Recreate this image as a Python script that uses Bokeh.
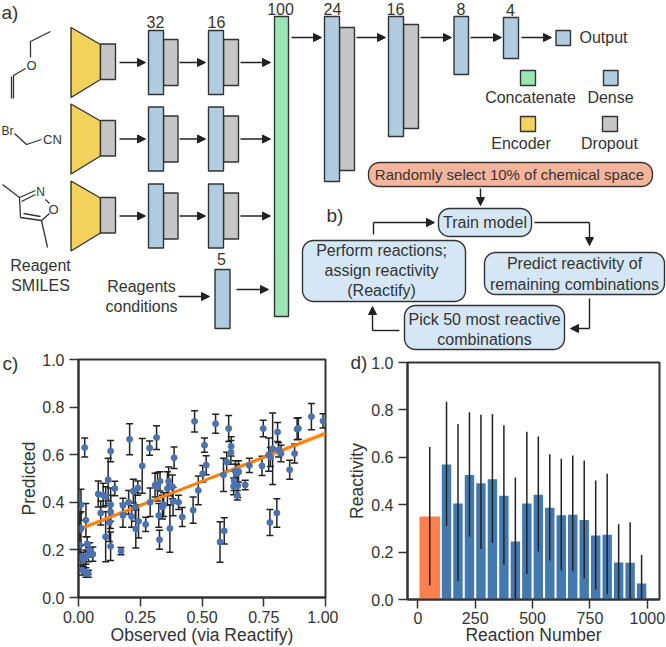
import numpy as np
from bokeh.plotting import figure
from bokeh.layouts import column, row
from bokeh.embed import file_html
from bokeh.resources import INLINE
from bokeh.core.properties import value
from bokeh.models import (Arrow, NormalHead, ColumnDataSource, Whisker, TeeHead,
                          FixedTicker, Range1d)

FONT = "Liberation Sans"
DARK = "#333333"

# ---- panel c data
OBSERVED = [0.025,0.01,0.03,0.01,0.005,0.005,0.01,0.015,0.02,0.03,0.04,0.035,0.03,0.04,0.045,0.058,
            0.08,0.09,0.1,0.11,0.11,0.12,0.125,0.13,0.13,0.13,0.13,
            0.147,0.172,0.18,0.18,0.203,0.207,0.215,0.222,0.23,0.232,0.24,0.243,
            0.258,0.272,0.288,0.29,0.31,0.316,0.32,0.325,0.328,0.33,0.34,0.345,
            0.36,0.365,0.37,0.38,0.383,0.387,0.405,0.42,0.464,0.47,0.485,0.503,0.51,0.517,
            0.555,0.573,0.587,0.59,0.6,0.608,0.617,0.618,0.628,0.63,0.635,0.64,0.643,0.645,0.648,
            0.675,0.692,0.743,0.748,0.77,0.775,0.777,0.786,0.803,0.806,0.81,0.82,0.855,0.875,0.885,0.89,0.943,0.99]
PREDICTED = [0.63,0.39,0.325,0.29,0.285,0.22,0.17,0.115,0.16,0.105,0.10,0.225,0.17,0.18,0.2,0.182,
             0.435,0.355,0.43,0.425,0.255,0.495,0.315,0.615,0.39,0.36,0.215,
             0.458,0.195,0.387,0.345,0.40,0.665,0.34,0.447,0.38,0.288,0.46,0.32,
             0.553,0.307,0.628,0.40,0.472,0.672,0.465,0.345,0.243,0.488,0.38,0.39,
             0.458,0.488,0.29,0.465,0.403,0.587,0.40,0.338,0.367,0.74,0.45,0.52,0.64,0.556,
             0.73,0.233,0.515,0.28,0.57,0.71,0.61,0.635,0.467,0.49,0.53,0.52,0.43,0.47,0.53,
             0.473,0.555,0.553,0.71,0.60,0.315,0.59,0.625,0.355,0.695,0.62,0.605,0.537,0.605,0.708,0.71,0.76,0.742]
PRED_ERR = [0.04,0.065,0.07,0.07,0.07,0.06,0.05,0.02,0.03,0.02,0.015,0.03,0.03,0.03,0.03,0.03,
            0.055,0.05,0.05,0.04,0.105,0.09,0.08,0.045,0.07,0.07,0.06,
            0.03,0.015,0.03,0.05,0.05,0.065,0.045,0.05,0.06,0.08,0.03,0.07,
            0.115,0.03,0.03,0.06,0.05,0.05,0.06,0.05,0.04,0.04,0.05,0.05,
            0.07,0.06,0.1,0.05,0.06,0.045,0.03,0.04,0.055,0.045,0.06,0.035,0.03,0.04,
            0.04,0.085,0.07,0.055,0.04,0.055,0.05,0.04,0.035,0.04,0.045,0.04,0.02,0.05,0.045,
            0.02,0.03,0.04,0.035,0.07,0.055,0.04,0.15,0.06,0.04,0.03,0.035,0.04,0.04,0.045,0.045,0.055,0.03]
FIT_X = [0.01, 0.5, 1.0]
FIT_Y = [0.29, 0.488, 0.69]
FIT_LO = [0.28, 0.483, 0.675]
FIT_HI = [0.30, 0.493, 0.705]
C_X_TICKS = [0, 0.25, 0.5, 0.75, 1.0]
C_X_LABELS = ["0.00", "0.25", "0.50", "0.75", "1.00"]
Y_TICKS = [0, 0.2, 0.4, 0.6, 0.8, 1.0]
Y_LABELS = ["0.0", "0.2", "0.4", "0.6", "0.8", "1.0"]

# ---- panel d data
RANDOM_X = [52]
RANDOM_Y = [0.35]
RANDOM_LO = [0.06]
RANDOM_HI = [0.643]
BAR_X = [125,175,225,275,325,375,425,475,525,575,625,675,725,775,825,875,925,975]
BAR_Y = [0.57,0.405,0.525,0.49,0.507,0.438,0.245,0.405,0.442,0.387,0.356,0.358,0.335,0.27,0.273,0.156,0.155,0.067]
BAR_HI = [0.834,0.74,0.79,0.78,0.783,0.735,0.515,0.708,0.688,0.613,0.594,0.608,0.586,0.502,0.531,0.317,0.326,0.189]
BAR_LO = [0.31,0.077,0.265,0.213,0.238,0.147,0.0,0.108,0.203,0.165,0.123,0.119,0.09,0.042,0.021,0.0,0.0,0.0]
D_X_TICKS = [0, 250, 500, 750, 1000]

# ---- diagram colours
BLUE, GRAY, YELLOW, GREEN = "#B1CBE1", "#C6C6C6", "#F2D25C", "#9AE6B2"
PALE, SALMON = "#D5E7F7", "#F6B59C"

d = figure(width=666, height=375, output_backend="svg", toolbar_location=None,
           x_range=Range1d(0, 666), y_range=Range1d(375, 0), min_border=0)
d.axis.visible = False
d.grid.visible = False
d.outline_line_color = None
d.background_fill_color = None
d.border_fill_color = None


def box(x0, x1, y0, y1, fill):
    d.quad(left=x0, right=x1, top=y0, bottom=y1, fill_color=fill, line_color=DARK, line_width=1.4)


def rounded(x0, x1, y0, y1, r, fill):
    t = np.linspace(0, np.pi / 2, 9)
    xs = np.concatenate([x1 - r + r*np.sin(t), x1 - r + r*np.cos(t), x0 + r - r*np.sin(t), x0 + r - r*np.cos(t)])
    ys = np.concatenate([y0 + r - r*np.cos(t), y1 - r + r*np.sin(t), y1 - r + r*np.cos(t), y0 + r - r*np.sin(t)])
    d.patch(xs, ys, fill_color=fill, line_color=DARK, line_width=1.4)


def txt(x, y, s, size=16, color=DARK, align="center"):
    d.text([x], [y], text=[s], text_font=value(FONT), text_font_size=f"{size}px", text_color=color,
           text_align=align, text_baseline="middle")


def arrow(x0, y0, x1, y1, size=8):
    d.add_layout(Arrow(end=NormalHead(size=size, fill_color="#222222", line_color="#222222", line_width=1),
                       x_start=x0, y_start=y0, x_end=x1, y_end=y1, line_color="#222222", line_width=1.4))


def path(xs, ys):
    d.line(xs[:-1], ys[:-1], line_color="#222222", line_width=1.4)
    arrow(xs[-2], ys[-2], xs[-1], ys[-1])


for off in (0, 76.5, 153.5):
    d.patch([70.5, 100, 100, 70.5], [27 + off, 44 + off, 79 + off, 97 + off],
            fill_color=YELLOW, line_color=DARK, line_width=1.4)
    box(100, 115, 43.5 + off, 79 + off, GRAY)
    box(163, 177.5, 39 + off, 85 + off, GRAY)
    box(148, 163, 30 + off, 94 + off, BLUE)
    box(223, 238, 39 + off, 85 + off, GRAY)
    box(208, 223, 30 + off, 94 + off, BLUE)
    for a, b in ((119, 145), (179, 205), (240, 270)):
        arrow(a, 62 + off, b, 62 + off)

box(274, 288, 16, 316, GREEN)
box(214.5, 229.5, 269, 328, BLUE)
arrow(178, 296, 209, 296)
arrow(236, 289, 268, 289)

box(339, 354, 27, 170, GRAY)
box(324, 339, 16, 181, BLUE)
box(403, 418, 24, 128, GRAY)
box(388, 403, 16, 136, BLUE)
box(453.5, 468, 16, 74, BLUE)
box(503, 518, 17, 58, BLUE)
box(555.5, 570, 30, 45, BLUE)
for a, b in ((291, 321), (356, 385), (420, 451), (470, 501), (521, 551)):
    arrow(a, 37, b, 37)

box(520, 535, 70, 85, GREEN)
box(603, 617.5, 70, 85, BLUE)
box(520, 535, 116, 131, YELLOW)
box(602, 617, 116, 131, GRAY)

for x, y, s in ((155, 21, "32"), (216, 21, "16"), (280, 8, "100"), (332, 8, "24"), (395, 8, "16"),
                (460.5, 8, "8"), (510, 9, "4"), (221, 258, "5")):
    txt(x, y, s)

txt(579, 37, "Output", align="left")
txt(530, 97, "Concatenate")
txt(610, 97, "Dense")
txt(520.5, 143, "Encoder")
txt(609, 143, "Dropout")
txt(40, 265, "Reagent")
txt(40, 285, "SMILES")
txt(141, 286, "Reagents")
txt(141, 306, "conditions")
txt(1, 12, "a)", size=19, align="left")
txt(326, 215, "b)", size=19, align="left")
txt(2, 363, "c)", size=19, align="left")
txt(350, 362, "d)", size=19, align="left")

# molecules
MOL = "#333333"
mol_lines = [
    ([50, 30, 30], [31, 41, 57]), ([25, 13, 13], [68, 75, 98]), ([11, 11], [76, 98]),
    ([14, 26, 41], [133, 144, 139]),
    ([2, 19, 35], [184, 197, 190]), ([21, 35], [201, 194]),
    ([45, 49], [199, 203]), ([49, 41, 20, 19], [213, 220, 217, 197]), ([40, 23], [216, 213]), ([41, 47], [220, 247]),
]
for xs, ys in mol_lines:
    d.line(xs, ys, line_color=MOL, line_width=1.3)
txt(31, 65, "O", size=13)
txt(7, 130, "Br", size=12)
txt(52, 139, "CN", size=13)
txt(40, 191, "N", size=12)
txt(53, 209, "O", size=13)

# flow chart
rounded(368, 652, 162, 186, 11, SALMON)
rounded(438, 531, 208, 236, 11, PALE)
rounded(302, 465, 240, 301, 11, PALE)
rounded(484, 664, 252, 294, 11, PALE)
rounded(404, 564, 305, 349, 11, PALE)
txt(509, 174, "Randomly select 10% of chemical space", size=15)
txt(484.5, 222, "Train model")
txt(381, 250, "Perform reactions;")
txt(381, 270, "assign reactivity")
txt(381, 290, "(Reactify)")
txt(574, 263, "Predict reactivity of")
txt(574, 284, "remaining combinations")
txt(484, 319, "Pick 50 most reactive")
txt(484, 339, "combinations")
arrow(480, 188, 480, 205)
path([373, 373, 434], [234, 222, 222])
path([534, 589, 589], [222, 222, 245])
path([589, 589, 570], [298, 328, 328])
path([399, 372, 372], [330, 330, 306])


def style(p, xlabel, ylabel):
    p.grid.visible = False
    p.outline_line_color = DARK
    p.outline_line_width = 2
    p.border_fill_color = None
    for ax in (p.xaxis[0], p.yaxis[0]):
        ax.axis_line_color = DARK
        ax.axis_line_width = 2
        ax.major_tick_line_color = DARK
        ax.major_tick_line_width = 1.5
        ax.major_tick_in = 0
        ax.major_tick_out = 9
        ax.minor_tick_line_color = None
        ax.major_label_text_font = FONT
        ax.major_label_text_font_size = "16px"
        ax.major_label_text_color = DARK
        ax.major_label_text_line_height = 0.9
        ax.axis_label_text_font = FONT
        ax.axis_label_text_font_size = "17.5px"
        ax.axis_label_text_font_style = "normal"
        ax.axis_label_text_color = DARK
        ax.axis_label_text_line_height = 0.9
    p.xaxis.axis_label = xlabel
    p.yaxis.axis_label = ylabel
    p.yaxis.ticker = FixedTicker(ticks=Y_TICKS)
    p.yaxis.major_label_overrides = dict(zip(Y_TICKS, Y_LABELS))


# panel c
c = figure(width=338, height=295, output_backend="svg", toolbar_location=None,
           x_range=Range1d(0, 1), y_range=Range1d(0, 1),
           min_border_left=78, min_border_right=13, min_border_top=7, min_border_bottom=50)
style(c, "Observed (via Reactify)", "Predicted")
c.xaxis.ticker = FixedTicker(ticks=C_X_TICKS)
c.xaxis.major_label_overrides = dict(zip(C_X_TICKS, C_X_LABELS))
c.xaxis.major_label_standoff = 4
c.xaxis.axis_label_standoff = -1
c.yaxis.axis_label_standoff = 0
src = ColumnDataSource(dict(x=OBSERVED, y=PREDICTED,
                            lo=[a - b for a, b in zip(PREDICTED, PRED_ERR)],
                            hi=[a + b for a, b in zip(PREDICTED, PRED_ERR)]))
c.add_layout(Whisker(source=src, base="x", lower="lo", upper="hi", line_color="#222222", line_width=1.5,
                     lower_head=TeeHead(size=7, line_color="#222222", line_width=1.5),
                     upper_head=TeeHead(size=7, line_color="#222222", line_width=1.5)))
c.varea(FIT_X, FIT_LO, FIT_HI, fill_color="#FF7F0E", fill_alpha=0.2)
c.line(FIT_X, FIT_Y, line_color="#FF7F0E", line_width=3)
c.scatter("x", "y", source=src, size=6, fill_color="#4C72B0", line_color="#4C72B0")

# panel d
dd = figure(width=328, height=295, output_backend="svg", toolbar_location=None,
            x_range=Range1d(-45, 1053), y_range=Range1d(0, 1),
            min_border_left=69, min_border_right=7, min_border_top=10, min_border_bottom=47)
style(dd, "Reaction Number", "Reactivity")
dd.xaxis.ticker = FixedTicker(ticks=D_X_TICKS)
dd.xaxis.major_label_standoff = 3
dd.xaxis.axis_label_standoff = -2
dd.yaxis.axis_label_standoff = 1
dd.vbar(x=RANDOM_X, top=RANDOM_Y, width=90, fill_color="#FF7F50", line_color=None)
dd.vbar(x=BAR_X, top=BAR_Y, width=41, fill_color="#4379AF", line_color=None)
dd.segment(RANDOM_X, RANDOM_LO, RANDOM_X, RANDOM_HI, line_color="#222222", line_width=1.5)
dd.segment(BAR_X, BAR_LO, BAR_X, BAR_HI, line_color="#222222", line_width=1.5)

page = column(d, row(column(c), column(dd), spacing=0, margin=(-23, 0, 0, 0)), spacing=0)
open("out.html", "w").write(file_html(page, INLINE))
